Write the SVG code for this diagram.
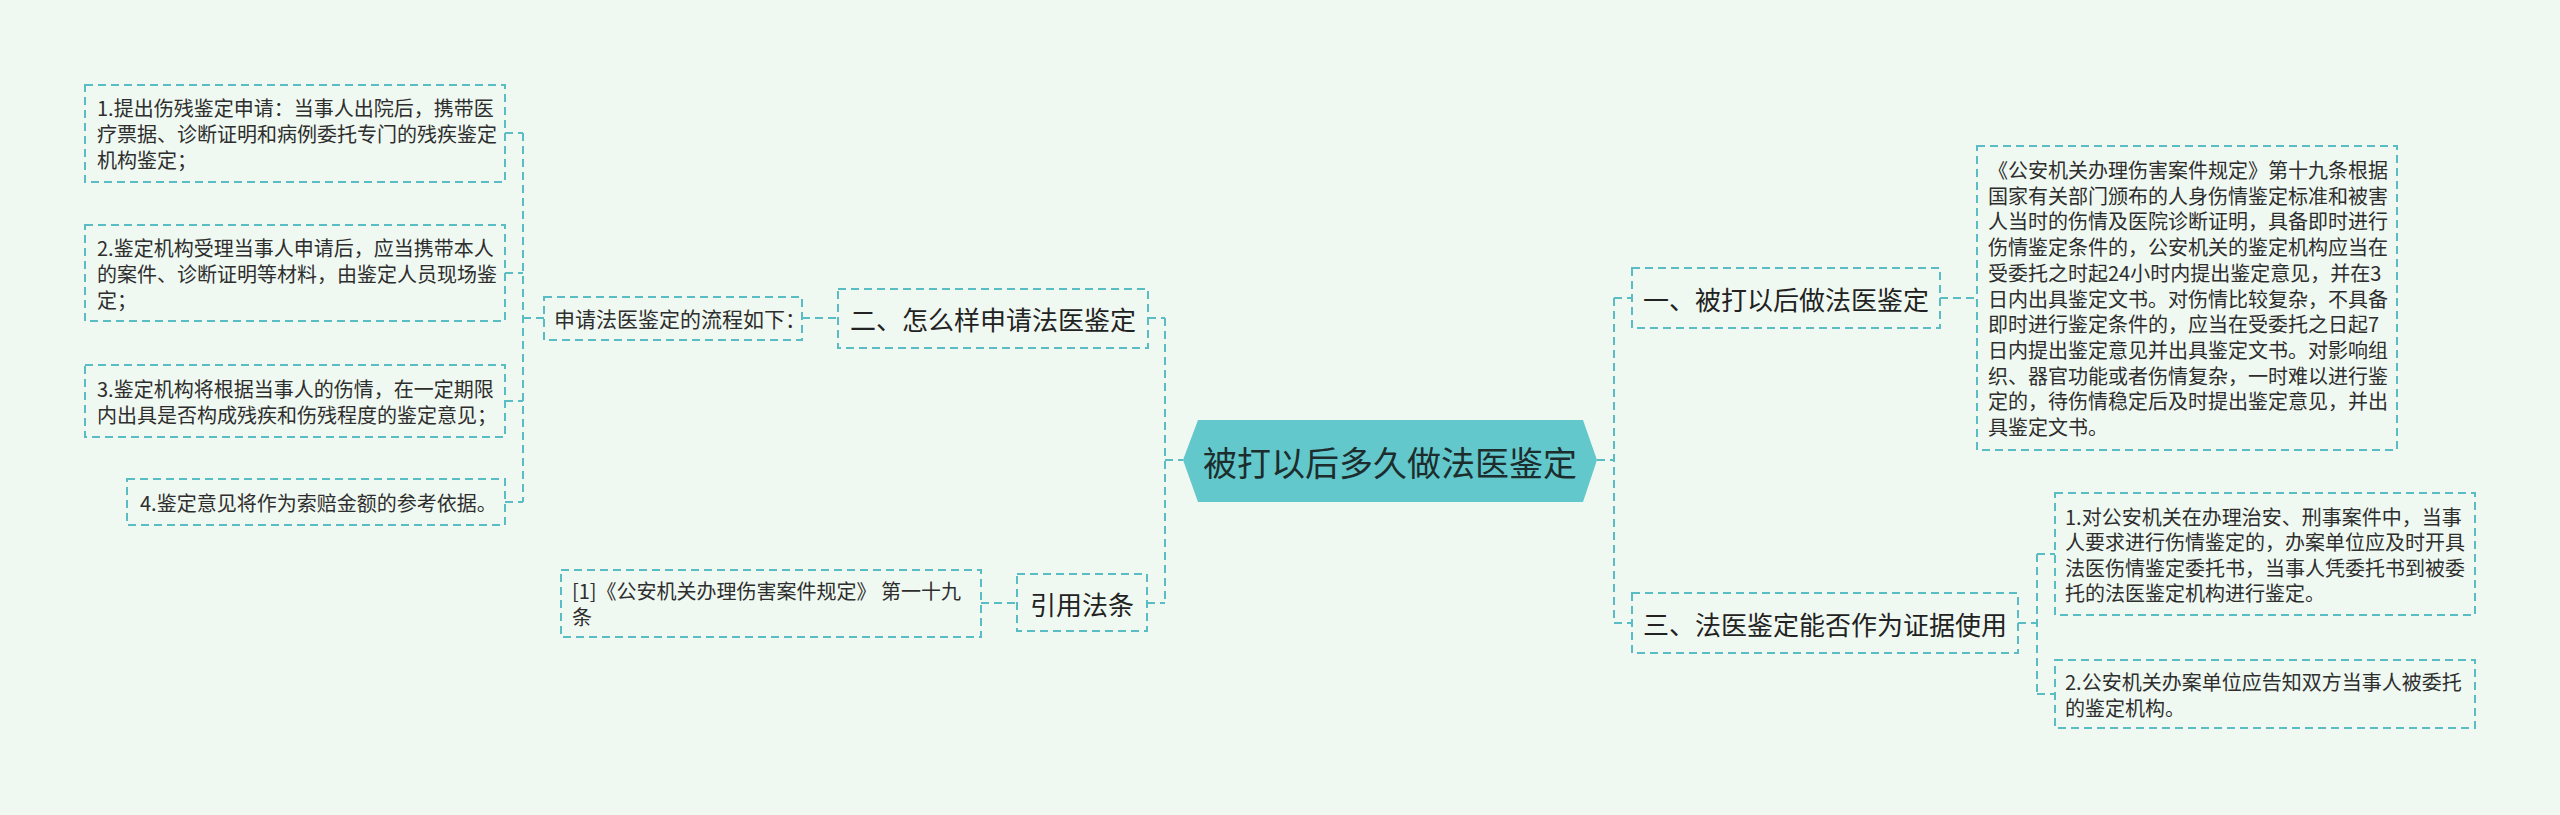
<svg xmlns="http://www.w3.org/2000/svg" width="2560" height="815" viewBox="0 0 2560 815">
<style>
.bx{fill:none;stroke:#5abdc3;stroke-width:2;stroke-dasharray:8 5}
.cn{fill:none;stroke:#5abdc3;stroke-width:2;stroke-dasharray:8 5}
.t{font-family:"Noto Sans CJK SC","Noto Sans",sans-serif;fill:#2e2e2e;dominant-baseline:central}
.s{font-size:20px}
.m{font-size:21px}
.l{font-size:26px;fill:#222}
.root{font-size:34px;fill:#1d2d2e}
</style>
<rect width="2560" height="815" fill="#f0f9f1"/>
<g id="connectors">
<path class="cn" d="M1165 318V603M1165 460H1183M1148 318H1165M1147 603H1165"/>
<path class="cn" d="M802 318H838M981 603H1017"/>
<path class="cn" d="M523 133V502M505 133H523M505 273H523M505 401H523M505 502H523M523 318H544"/>
<path class="cn" d="M1614 298V623M1597 460H1614M1614 298H1632M1614 623H1632"/>
<path class="cn" d="M1940 298H1977"/>
<path class="cn" d="M2018 623H2037M2037 554V694M2037 554H2055M2037 694H2055"/>
</g>
<g id="root">
<polygon points="1183,460 1198,420 1583,420 1597,460 1583,502 1198,502" fill="#62c8cb"/>
<text class="t root" x="1390" y="461" text-anchor="middle">被打以后多久做法医鉴定</text>
</g>
<g id="n2">
<rect class="bx" x="838" y="289" width="310" height="59"/>
<text class="t l" x="993" y="318" text-anchor="middle">二、怎么样申请法医鉴定</text>
</g>
<g id="n2a">
<rect class="bx" x="544" y="297" width="258" height="43"/>
<text class="t m" x="554" y="318">申请法医鉴定的流程如下：</text>
</g>
<g id="s1">
<rect class="bx" x="85" y="85" width="420" height="97"/>
<text class="t s" x="97" y="107.5">1.提出伤残鉴定申请：当事人出院后，携带医</text>
<text class="t s" x="97" y="133.5">疗票据、诊断证明和病例委托专门的残疾鉴定</text>
<text class="t s" x="97" y="159.5">机构鉴定；</text>
</g>
<g id="s2">
<rect class="bx" x="85" y="225" width="420" height="96"/>
<text class="t s" x="97" y="247">2.鉴定机构受理当事人申请后，应当携带本人</text>
<text class="t s" x="97" y="273">的案件、诊断证明等材料，由鉴定人员现场鉴</text>
<text class="t s" x="97" y="299">定；</text>
</g>
<g id="s3">
<rect class="bx" x="85" y="365" width="420" height="72"/>
<text class="t s" x="97" y="388">3.鉴定机构将根据当事人的伤情，在一定期限</text>
<text class="t s" x="97" y="414">内出具是否构成残疾和伤残程度的鉴定意见；</text>
</g>
<g id="s4">
<rect class="bx" x="127" y="479" width="378" height="46"/>
<text class="t s" x="140" y="502">4.鉴定意见将作为索赔金额的参考依据。</text>
</g>
<g id="n4">
<rect class="bx" x="1017" y="574" width="130" height="57"/>
<text class="t l" x="1082" y="603" text-anchor="middle">引用法条</text>
</g>
<g id="n4a">
<rect class="bx" x="561" y="570" width="420" height="67"/>
<text class="t s" x="572" y="590.5">[1]《公安机关办理伤害案件规定》 第一十九</text>
<text class="t s" x="572" y="616.5">条</text>
</g>
<g id="n1">
<rect class="bx" x="1632" y="268" width="308" height="60"/>
<text class="t l" x="1786" y="298" text-anchor="middle">一、被打以后做法医鉴定</text>
</g>
<g id="n1a">
<rect class="bx" x="1977" y="146" width="420" height="304"/>
<text class="t s" x="1988" y="169.5">《公安机关办理伤害案件规定》第十九条根据</text>
<text class="t s" x="1988" y="195.2">国家有关部门颁布的人身伤情鉴定标准和被害</text>
<text class="t s" x="1988" y="220.9">人当时的伤情及医院诊断证明，具备即时进行</text>
<text class="t s" x="1988" y="246.6">伤情鉴定条件的，公安机关的鉴定机构应当在</text>
<text class="t s" x="1988" y="272.3">受委托之时起24小时内提出鉴定意见，并在3</text>
<text class="t s" x="1988" y="298">日内出具鉴定文书。对伤情比较复杂，不具备</text>
<text class="t s" x="1988" y="323.7">即时进行鉴定条件的，应当在受委托之日起7</text>
<text class="t s" x="1988" y="349.4">日内提出鉴定意见并出具鉴定文书。对影响组</text>
<text class="t s" x="1988" y="375.1">织、器官功能或者伤情复杂，一时难以进行鉴</text>
<text class="t s" x="1988" y="400.8">定的，待伤情稳定后及时提出鉴定意见，并出</text>
<text class="t s" x="1988" y="426.5">具鉴定文书。</text>
</g>
<g id="n3">
<rect class="bx" x="1632" y="593" width="386" height="60"/>
<text class="t l" x="1825" y="623" text-anchor="middle">三、法医鉴定能否作为证据使用</text>
</g>
<g id="n3a">
<rect class="bx" x="2055" y="493" width="420" height="122"/>
<text class="t s" x="2065" y="516">1.对公安机关在办理治安、刑事案件中，当事</text>
<text class="t s" x="2065" y="541.5">人要求进行伤情鉴定的，办案单位应及时开具</text>
<text class="t s" x="2065" y="567">法医伤情鉴定委托书，当事人凭委托书到被委</text>
<text class="t s" x="2065" y="592.5">托的法医鉴定机构进行鉴定。</text>
</g>
<g id="n3b">
<rect class="bx" x="2055" y="660" width="420" height="68"/>
<text class="t s" x="2065" y="681">2.公安机关办案单位应告知双方当事人被委托</text>
<text class="t s" x="2065" y="707">的鉴定机构。</text>
</g>
</svg>
